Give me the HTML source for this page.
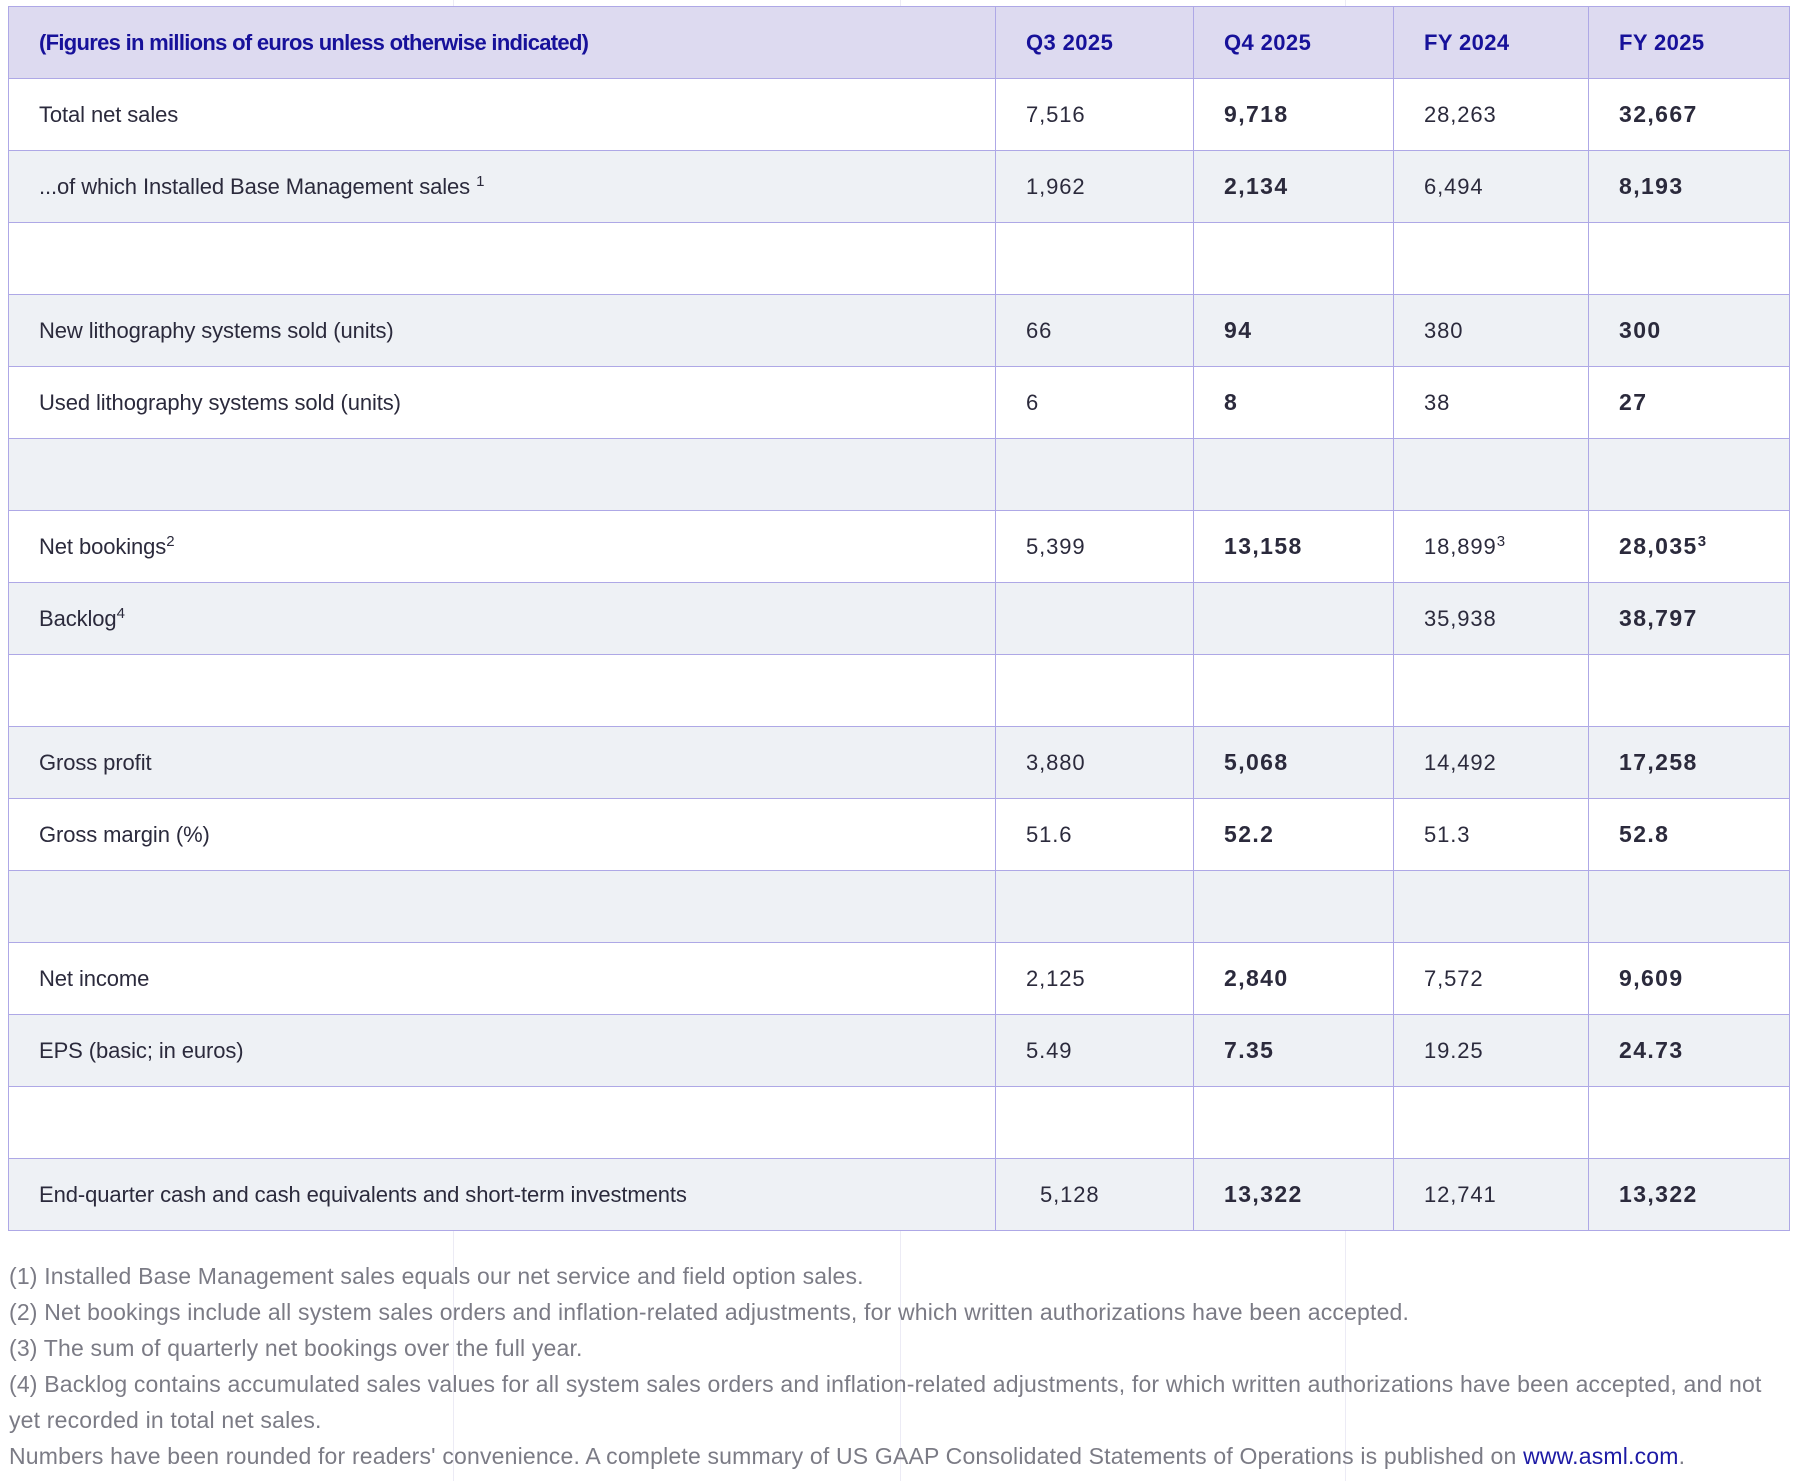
<!DOCTYPE html>
<html><head><meta charset="utf-8"><style>
html,body{margin:0;padding:0;background:#fff;}
body{width:1796px;height:1481px;position:relative;overflow:hidden;font-family:"Liberation Sans",sans-serif;}
.vl{position:absolute;top:0;width:1px;height:1481px;background:#ecebf5;}
table{position:absolute;left:8px;top:6px;width:1781px;border-collapse:collapse;table-layout:fixed;}
td{border:1px solid #aea8e6;height:71px;padding:0 0 0 30px;font-size:22px;letter-spacing:0.9px;color:#2b2a3c;vertical-align:middle;white-space:nowrap;background:#fff;}
td.l{letter-spacing:-0.1px;}
tr.h td{background:#dddaf0;color:#17119a;font-weight:bold;letter-spacing:0.4px;}
tr.h td.l{letter-spacing:-0.7px;}
tr.g td{background:#eef1f5;}
td.b{font-weight:bold;font-size:23px;letter-spacing:1.4px;}
sup{font-size:15px;vertical-align:8px;line-height:0;letter-spacing:0;}
.fn{position:absolute;left:9px;font-size:23px;letter-spacing:0.18px;color:#7b7b85;white-space:nowrap;}
.fn a{color:#1d1aa5;text-decoration:none;}
</style></head><body>
<div class="vl" style="left:453px"></div>
<div class="vl" style="left:900px"></div>
<div class="vl" style="left:1345px"></div>
<table>
<colgroup><col style="width:987px"><col style="width:198px"><col style="width:200px"><col style="width:195px"><col style="width:201px"></colgroup>
<tr class="h"><td class="l">(Figures in millions of euros unless otherwise indicated)</td><td>Q3 2025</td><td>Q4 2025</td><td>FY 2024</td><td>FY 2025</td></tr>
<tr class="w"><td class="l">Total net sales</td><td>7,516</td><td class="b">9,718</td><td>28,263</td><td class="b">32,667</td></tr>
<tr class="g"><td class="l">...of which Installed Base Management sales <sup>1</sup></td><td>1,962</td><td class="b">2,134</td><td>6,494</td><td class="b">8,193</td></tr>
<tr class="w"><td></td><td></td><td></td><td></td><td></td></tr>
<tr class="g"><td class="l">New lithography systems sold (units)</td><td>66</td><td class="b">94</td><td>380</td><td class="b">300</td></tr>
<tr class="w"><td class="l">Used lithography systems sold (units)</td><td>6</td><td class="b">8</td><td>38</td><td class="b">27</td></tr>
<tr class="g"><td></td><td></td><td></td><td></td><td></td></tr>
<tr class="w"><td class="l">Net bookings<sup>2</sup></td><td>5,399</td><td class="b">13,158</td><td>18,899<sup>3</sup></td><td class="b">28,035<sup>3</sup></td></tr>
<tr class="g"><td class="l">Backlog<sup>4</sup></td><td></td><td></td><td>35,938</td><td class="b">38,797</td></tr>
<tr class="w"><td></td><td></td><td></td><td></td><td></td></tr>
<tr class="g"><td class="l">Gross profit</td><td>3,880</td><td class="b">5,068</td><td>14,492</td><td class="b">17,258</td></tr>
<tr class="w"><td class="l">Gross margin (%)</td><td>51.6</td><td class="b">52.2</td><td>51.3</td><td class="b">52.8</td></tr>
<tr class="g"><td></td><td></td><td></td><td></td><td></td></tr>
<tr class="w"><td class="l">Net income</td><td>2,125</td><td class="b">2,840</td><td>7,572</td><td class="b">9,609</td></tr>
<tr class="g"><td class="l">EPS (basic; in euros)</td><td>5.49</td><td class="b">7.35</td><td>19.25</td><td class="b">24.73</td></tr>
<tr class="w"><td></td><td></td><td></td><td></td><td></td></tr>
<tr class="g"><td class="l">End-quarter cash and cash equivalents and short-term investments</td><td style="padding-left:44px">5,128</td><td class="b">13,322</td><td>12,741</td><td class="b">13,322</td></tr>
</table>
<div class="fn" style="top:1263px">(1) Installed Base Management sales equals our net service and field option sales.</div>
<div class="fn" style="top:1299px">(2) Net bookings include all system sales orders and inflation-related adjustments, for which written authorizations have been accepted.</div>
<div class="fn" style="top:1335px">(3) The sum of quarterly net bookings over the full year.</div>
<div class="fn" style="top:1371px">(4) Backlog contains accumulated sales values for all system sales orders and inflation-related adjustments, for which written authorizations have been accepted, and not</div>
<div class="fn" style="top:1407px">yet recorded in total net sales.</div>
<div class="fn" style="top:1443px">Numbers have been rounded for readers' convenience. A complete summary of US GAAP Consolidated Statements of Operations is published on <a>www.asml.com</a>.</div>
</body></html>
